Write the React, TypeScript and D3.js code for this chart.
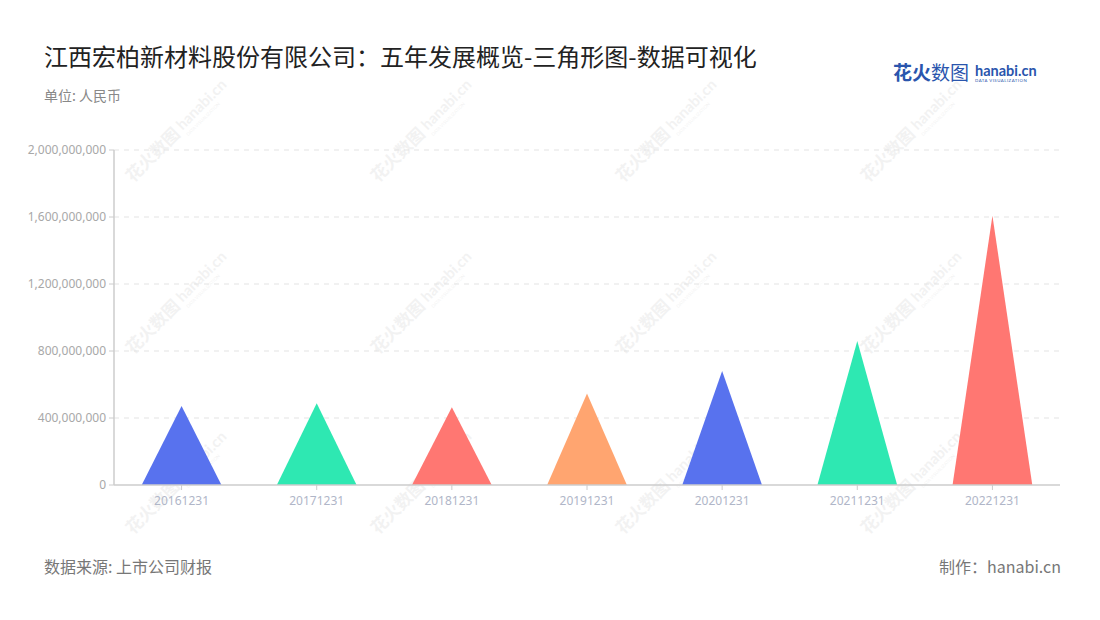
import React from "react";
import * as d3 from "d3";

const categories = ["20161231", "20171231", "20181231", "20191231", "20201231", "20211231", "20221231"];
const values = [472000000, 488000000, 464000000, 547000000, 681000000, 860000000, 1608000000];
const colors = ["#5872ee", "#2ee8b2", "#ff7772", "#ffa570", "#5872ee", "#2ee8b2", "#ff7772"];
const yTicks = [0, 400000000, 800000000, 1200000000, 1600000000, 2000000000];

const W = 1100, H = 620;
const left = 114, right = 1060, top = 150, bottom = 485;
const FONT = "'Noto Sans CJK SC', 'Noto Sans', sans-serif";

export default function App() {
  const x = d3.scaleBand<string>().domain(categories).range([left, right]).paddingInner(0).paddingOuter(0);
  const y = d3.scaleLinear().domain([0, 2000000000]).range([bottom, top]);
  const fmt = d3.format(",");
  const triW = x.bandwidth() * 0.59;

  const wmX = [133, 378, 623, 868];
  const wmY = [183, 355, 535];

  return (
    <div style={{ margin: -8 }}>
      <svg width={W} height={H} style={{ display: "block", fontFamily: FONT }}>
        <rect width={W} height={H} fill="#fff" />
        {/* watermarks */}
        {wmX.map((wx) =>
          wmY.map((wy) => (
            <g key={`${wx}-${wy}`} transform={`translate(${wx},${wy}) rotate(-45)`} opacity={0.09}>
              <text x={0} y={0} fontSize={17} fontWeight={700} fill="#777">花火数图</text>
              <text x={72} y={-2} fontSize={15} fontWeight={700} fill="#777" fontFamily="Lato, sans-serif">hanabi.cn</text>
              <text x={72} y={6} fontSize={4.5} fill="#777" fontFamily="Lato, sans-serif">DATA VISUALIZATION</text>
            </g>
          ))
        )}
        {/* title */}
        <text x={44} y={66} fontSize={24} fill="#222">江西宏柏新材料股份有限公司：五年发展概览-三角形图-数据可视化</text>
        <text x={44} y={101} fontSize={14} fill="#888">单位: 人民币</text>
        {/* logo */}
        <text x={893} y={80} fontSize={19} fontWeight={700} fill="#2a55ad">花火</text>
        <text x={931} y={80} fontSize={19} fill="#2a55ad">数图</text>
        <text x={975} y={76} fontSize={14.5} fontWeight={700} fill="#2a55ad" fontFamily="Lato, sans-serif">hanabi.cn</text>
        <text x={975} y={82} fontSize={4.3} fill="#2a55ad" fontFamily="Lato, sans-serif" letterSpacing={0.5}>DATA VISUALIZATION</text>
        {/* grid */}
        {yTicks.filter((t) => t > 0).map((t) => (
          <line key={t} x1={left} x2={right} y1={y(t)} y2={y(t)} stroke="#e3e3e3" strokeDasharray="5,5" />
        ))}
        {/* y axis */}
        <line x1={left} x2={left} y1={top} y2={bottom} stroke="#ccc" strokeWidth={1.5} />
        {yTicks.map((t) => (
          <g key={t}>
            <line x1={left - 5} x2={left} y1={y(t)} y2={y(t)} stroke="#ccc" />
            <text x={left - 8} y={y(t)} dy="0.35em" textAnchor="end" fontSize={12} fill="#a8a8a8" fontFamily="'Noto Sans', sans-serif">{fmt(t)}</text>
          </g>
        ))}
        {/* triangles */}
        {categories.map((c, i) => {
          const cx = (x(c) as number) + x.bandwidth() / 2;
          const p = d3.path();
          p.moveTo(cx - triW / 2, y(0));
          p.lineTo(cx, y(values[i]));
          p.lineTo(cx + triW / 2, y(0));
          p.closePath();
          return <path key={c} d={p.toString()} fill={colors[i]} />;
        })}
        {/* x axis */}
        <line x1={left} x2={right} y1={bottom} y2={bottom} stroke="#ccc" strokeWidth={1.5} />
        {categories.map((c) => {
          const cx = (x(c) as number) + x.bandwidth() / 2;
          return (
            <g key={c}>
              <line x1={cx} x2={cx} y1={bottom} y2={bottom + 5} stroke="#ccc" />
              <text x={cx} y={bottom + 20} textAnchor="middle" fontSize={12} fill="#b0b6c8" fontFamily="'Noto Sans', sans-serif">{c}</text>
            </g>
          );
        })}
        {/* footer */}
        <text x={44} y={573} fontSize={16} fill="#777">数据来源: 上市公司财报</text>
        <text x={1061} y={573} fontSize={16} fill="#777" textAnchor="end">制作：hanabi.cn</text>
      </svg>
    </div>
  );
}
